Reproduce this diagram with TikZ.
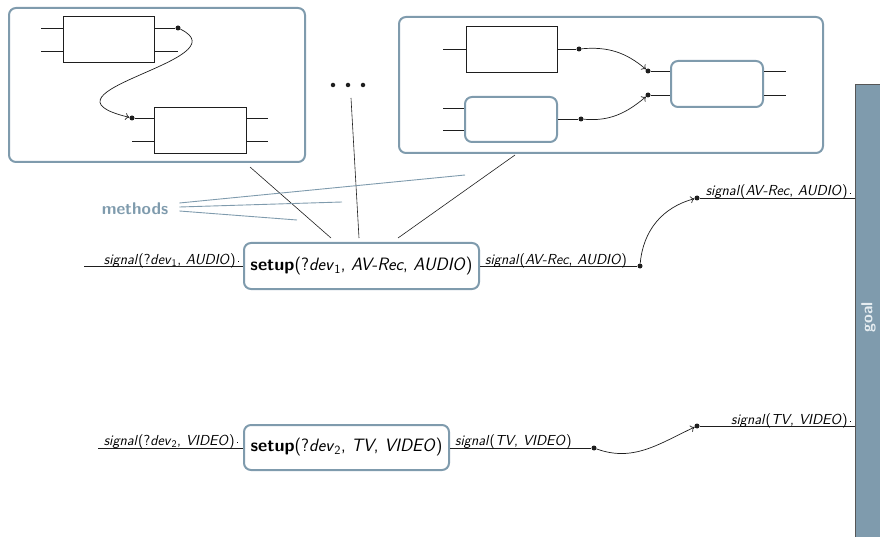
\documentclass[tikz,border=0pt]{standalone}
\usepackage{fontspec}
\usetikzlibrary{arrows.meta}
\definecolor{steel}{HTML}{7F9BAD}
\definecolor{ink}{HTML}{1E1E1E}
\definecolor{goaltext}{HTML}{E6EDF1}
\newcommand{\sig}[1]{\textit{signal}(#1)}
\newcommand{\tick}{\,\rule[2pt]{0.8pt}{0.8pt}}
\begin{document}
\begin{tikzpicture}[x=1pt,y=-1pt,font=\sffamily,
  frame/.style={draw=steel,line width=2pt,rounded corners=7pt,inner sep=0pt},
  plain/.style={draw=ink,line width=0.7pt,inner sep=0pt},
  wire/.style={draw=ink,line width=0.7pt},
  port/.style={circle,fill=ink,inner sep=0pt,minimum size=5pt},
  flow/.style={wire,-{To[length=4pt,width=7pt]}},
  stem/.style={draw=ink,line width=0.6pt},
  hint/.style={draw=steel,line width=0.9pt},
  lbl/.style={font=\sffamily\fontsize{14.5}{16}\selectfont,inner sep=0pt},
  act/.style={frame,font=\sffamily\fontsize{17.9}{21}\selectfont}]
\useasboundingbox (0,0) rectangle (880,537);

% ---- first method: two actions in sequence ----
\node[frame,minimum width=296pt,minimum height=154pt] (m1) at (157,85) {};
\node[plain,minimum width=91pt,minimum height=46pt] (m1a) at (108.5,39) {};
\node[plain,minimum width=92pt,minimum height=46pt] (m1b) at (200,130) {};
\coordinate (m1a-i1) at (41,28);  \coordinate (m1a-i2) at (41,51);
\node[port] (m1a-o1) at (178,28) {}; \coordinate (m1a-o2) at (178,51);
\node[port] (m1b-i1) at (132,118) {}; \coordinate (m1b-i2) at (132,141);
\coordinate (m1b-o1) at (268,118); \coordinate (m1b-o2) at (268,141);
\draw[wire] (m1a-i1) -- (m1a-i1 -| m1a.west);
\draw[wire] (m1a-i2) -- (m1a-i2 -| m1a.west);
\draw[wire] (m1a-o1 -| m1a.east) -- (m1a-o1);
\draw[wire] (m1a-o2 -| m1a.east) -- (m1a-o2);
\draw[wire] (m1b-i1) -- (m1b-i1 -| m1b.west);
\draw[wire] (m1b-i2) -- (m1b-i2 -| m1b.west);
\draw[wire] (m1b-o1 -| m1b.east) -- (m1b-o1);
\draw[wire] (m1b-o2 -| m1b.east) -- (m1b-o2);
\draw[flow] (m1a-o1) .. controls (244,60) and (24,92) .. (m1b-i1);

% ---- further methods ----
\node[port,minimum size=4.5pt] (dd1) at (333,85) {};
\node[port,minimum size=4.5pt] (dd2) at (348,85) {};
\node[port,minimum size=4.5pt] (dd3) at (363,85) {};

% ---- last method: two actions feeding a third ----
\node[frame,minimum width=424pt,minimum height=136pt] (m2) at (611,85) {};
\node[plain,minimum width=91pt,minimum height=46pt] (m2a) at (511.5,49) {};
\node[frame,minimum width=92pt,minimum height=45pt] (m2b) at (511,119.5) {};
\node[frame,minimum width=92pt,minimum height=46pt] (m2c) at (717,84) {};
\coordinate (m2a-i1) at (443,49);
\node[port] (m2a-o1) at (579,49) {};
\coordinate (m2b-i1) at (443,108); \coordinate (m2b-i2) at (443,130);
\node[port] (m2b-o1) at (581,119) {};
\node[port] (m2c-i1) at (648,71) {};
\node[port] (m2c-i2) at (648,95) {};
\coordinate (m2c-o1) at (786,71); \coordinate (m2c-o2) at (786,95);
\draw[wire] (m2a-i1) -- (m2a-i1 -| m2a.west);
\draw[wire] (m2a-o1 -| m2a.east) -- (m2a-o1);
\draw[wire] (m2b-i1) -- (m2b-i1 -| m2b.west);
\draw[wire] (m2b-i2) -- (m2b-i2 -| m2b.west);
\draw[wire] (m2b-o1 -| m2b.east) -- (m2b-o1);
\draw[wire] (m2c-i1) -- (m2c-i1 -| m2c.west);
\draw[wire] (m2c-i2) -- (m2c-i2 -| m2c.west);
\draw[wire] (m2c-o1 -| m2c.east) -- (m2c-o1);
\draw[wire] (m2c-o2 -| m2c.east) -- (m2c-o2);
\draw[flow] (m2a-o1) to[out=5,in=140] (m2c-i1);
\draw[flow] (m2b-o1) to[out=-5,in=-140] (m2c-i2);

% ---- goal ----
\node[fill=steel,draw=ink!75,line width=0.8pt,minimum width=27pt,minimum height=466pt,inner sep=0pt] (goal) at (868.5,317) {};
\node[rotate=90,text=goaltext,font=\sffamily\bfseries\fontsize{16}{18}\selectfont] (goaltxt) at (goal.center) {goal};

% ---- actions ----
\node[act,minimum width=235pt,minimum height=46pt] (s1) at (361.5,266)
  {\textbf{setup}(?\textit{dev}\textsubscript{1}, \textit{AV-Rec}, \textit{AUDIO})};
\node[act,minimum width=205pt,minimum height=45pt] (s2) at (346.5,447.5)
  {\textbf{setup}(?\textit{dev}\textsubscript{2}, \textit{TV}, \textit{VIDEO})};

% refinement links from the methods to the first action
\coordinate (r1a) at (250,167); \coordinate (r1b) at (331,238);
\coordinate (r2a) at (351,98);  \coordinate (r2b) at (359,238);
\coordinate (r3a) at (515,155); \coordinate (r3b) at (398,238);
\draw[stem] (r1a) -- (r1b);
\draw[stem] (r2a) -- (r2b);
\draw[stem] (r3a) -- (r3b);

\node[text=steel,font=\sffamily\bfseries\fontsize{17}{19}\selectfont,inner sep=0pt] (meth) at (135,209) {methods};
\coordinate (h1) at (465,175); \coordinate (h2) at (342,202); \coordinate (h3) at (297,220);
\draw[hint] (meth.east) ++(11,-6) coordinate (h1s) -- (h1);
\draw[hint] (meth.east) ++(11,-2) coordinate (h2s) -- (h2);
\draw[hint] (meth.east) ++(11,2)  coordinate (h3s) -- (h3);

% ---- signal links of the first action ----
\coordinate (s1in) at (84,266);
\draw[wire] (s1in) -- (s1in -| s1.west);
\node[lbl,anchor=base east] (l1) at (239,264) {\sig{?\textit{dev}\textsubscript{1}, \textit{AUDIO}}\tick};
\node[port] (s1out) at (640,266) {};
\draw[wire] (s1.east) -- (s1out);
\node[lbl,anchor=base west] (l2) at (485,264) {\sig{\textit{AV-Rec}, \textit{AUDIO}}};
\node[port] (g1) at (697,198) {};
\draw[flow] (s1out) to[out=85,in=195] (g1);
\draw[wire] (g1) -- (g1 -| goal.west);
\node[lbl,anchor=base east] (l3) at (851,196) {\sig{\textit{AV-Rec}, \textit{AUDIO}}\tick};

% ---- signal links of the second action ----
\coordinate (s2in) at (98,448);
\draw[wire] (s2in) -- (s2in -| s2.west);
\node[lbl,anchor=base east] (l4) at (238,445) {\sig{?\textit{dev}\textsubscript{2}, \textit{VIDEO}}\tick};
\node[port] (s2out) at (594,448) {};
\draw[wire] (s2out -| s2.east) -- (s2out);
\node[lbl,anchor=base west] (l5) at (455,445) {\sig{\textit{TV}, \textit{VIDEO}}};
\node[port] (g2) at (697,426) {};
\draw[flow] (s2out) to[out=-20,in=205] (g2);
\draw[wire] (g2) -- (g2 -| goal.west);
\node[lbl,anchor=base east] (l6) at (851,424) {\sig{\textit{TV}, \textit{VIDEO}}\tick};
\end{tikzpicture}
\end{document}
